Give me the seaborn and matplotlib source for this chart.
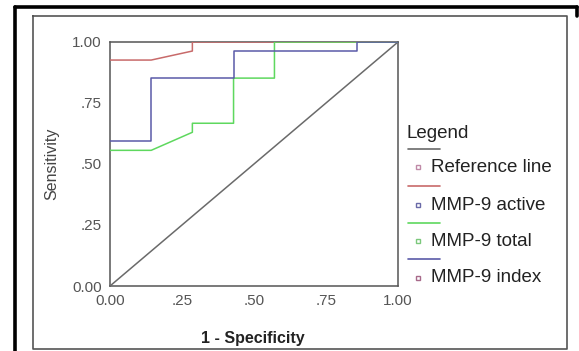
import matplotlib
matplotlib.use("Agg")
import matplotlib.pyplot as plt
from matplotlib.lines import Line2D
import seaborn as sns
import pandas as pd

# ROC curve data (1 - Specificity, Sensitivity)
ref_x = [0.0, 1.0]
ref_y = [0.0, 1.0]
active_x = [0.0, 0.143, 0.286, 0.286, 1.0]
active_y = [0.926, 0.926, 0.963, 1.0, 1.0]
total_x = [0.0, 0.143, 0.286, 0.286, 0.429, 0.429, 0.571, 0.571, 1.0]
total_y = [0.556, 0.556, 0.630, 0.667, 0.667, 0.852, 0.852, 1.0, 1.0]
index_x = [0.0, 0.143, 0.143, 0.429, 0.429, 0.857, 0.857, 1.0]
index_y = [0.593, 0.593, 0.852, 0.852, 0.963, 0.963, 1.0, 1.0]

tick_vals = [0.0, 0.25, 0.5, 0.75, 1.0]
tick_labels = ["0.00", ".25", ".50", ".75", "1.00"]
legend_labels = ["Reference line", "MMP-9 active", "MMP-9 total", "MMP-9 index"]

line_colors = ["#6a6a6a", "#c86a6a", "#5ed85e", "#5a5aa8"]
marker_colors = ["#c08aa8", "#6a6aa8", "#7cc87c", "#a86a8a"]

sns.set_style("white")
plt.rcParams["font.family"] = ["Liberation Sans", "DejaVu Sans"]

fig = plt.figure(figsize=(5.79, 3.51), dpi=100)
ax = fig.add_axes([110 / 579, 1 - 286 / 351, 288 / 579, 244 / 351])

series = [(ref_x, ref_y), (active_x, active_y), (total_x, total_y), (index_x, index_y)]
for (xs, ys), name, col in zip(series, legend_labels, line_colors):
    df = pd.DataFrame({"x": xs, "y": ys})
    sns.lineplot(data=df, x="x", y="y", sort=False, estimator=None, ax=ax,
                 color=col, linewidth=1.1)

ax.set_xlim(0, 1)
ax.set_ylim(0, 1)
ax.set_xticks(tick_vals)
ax.set_xticklabels(tick_labels)
ax.set_yticks(tick_vals)
ax.set_yticklabels(tick_labels)
ax.tick_params(axis="both", direction="out", length=4, width=1, color="#555555",
               labelsize=11, labelcolor="#555555", pad=2)
for s in ax.spines.values():
    s.set_color("#555555")
    s.set_linewidth(1.1)
    s.set_zorder(0)
ax.set_xlabel("1 - Specificity", fontsize=11.5, fontweight="bold", color="#222222")
ax.xaxis.set_label_coords(0.495, -(331 - 286) / 244)
ax.set_ylabel("Sensitivity", fontsize=11.5, color="#444444")
ax.yaxis.set_label_coords(-(110 - 59) / 288, 0.5)
ax.set_facecolor("white")

# Frames
W, H = 579, 351
def fx(px):
    return px / W
def fy(py):
    return 1 - py / H

fig.add_artist(Line2D([fx(15), fx(577)], [fy(7), fy(7)], color="black", lw=2.6))
fig.add_artist(Line2D([fx(15), fx(15)], [fy(7), fy(351)], color="black", lw=2.6))
fig.add_artist(Line2D([fx(577), fx(577)], [fy(7), fy(16)], color="black", lw=2.6))
fig.add_artist(Line2D([fx(33), fx(567), fx(567), fx(33), fx(33)],
                      [fy(16), fy(16), fy(349), fy(349), fy(16)], color="#555555", lw=1.2))

# Legend
fig.text(fx(407), fy(133), "Legend", fontsize=13.5, color="#222222", va="center", ha="left")
line_ys = [149, 186, 223, 259]
text_ys = [167, 205, 241, 278]
for ly, ty, lab, lc, mc in zip(line_ys, text_ys, legend_labels, line_colors, marker_colors):
    fig.add_artist(Line2D([fx(408), fx(440)], [fy(ly), fy(ly)], color=lc, lw=1.2))
    fig.add_artist(Line2D([fx(418)], [fy(ty)], marker="s", markersize=3.2,
                          markerfacecolor="white", markeredgecolor=mc, markeredgewidth=1.0,
                          linestyle="none"))
    fig.text(fx(431), fy(ty), lab, fontsize=13.5, color="#222222", va="center", ha="left")

fig.savefig("out.png", dpi=100)
